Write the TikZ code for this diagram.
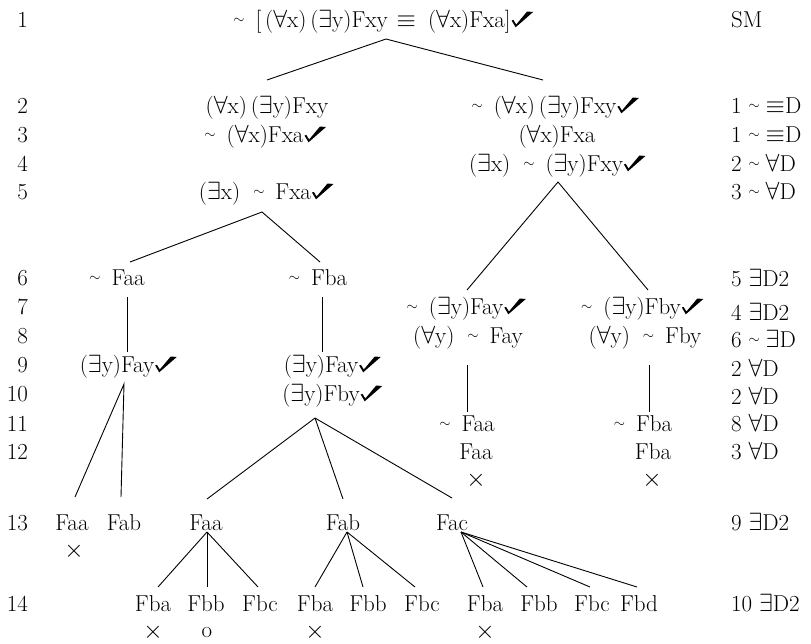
\documentclass[tikz,border=0pt]{standalone}
\usetikzlibrary{calc}
\newcommand\qA{\ensuremath{\forall}}
\newcommand\qE{\ensuremath{\exists}}
\newcommand\eqv{\ensuremath{\equiv}}
\newcommand\xx{\ensuremath{\times}}
\newcommand\nsim{\raisebox{3.5pt}{\fontsize{14.4}{14.4}\selectfont$\sim$}}
\newcommand\ntl{\nsim\hspace{11pt}}
\tikzset{
  chk/.pic={\fill (0,-6.5) -- (1.8,-7.1) -- (4.6,-2.5) -- (15.5,-15.5) -- (21.5,-15) -- (4,0.3) -- cycle;},
  fm/.style={anchor=base},
  num/.style={anchor=base east},
  just/.style={anchor=base west},
  branch/.style={line width=0.9pt}
}
\begin{document}
\begin{tikzpicture}[x=1pt,y=-1pt,
  every node/.style={inner sep=0pt,outer sep=0pt,font=\fontsize{23}{27}\selectfont}]
\useasboundingbox (0,0) rectangle (811,643);

% line numbers
\foreach \i/\y in {1/27,2/113,3/142,4/171,5/199,6/285,7/314,8/343,9/372,10/401,11/431,12/459,13/530,14/611}
  \node[num] (ln\i) at (28,\y) {\i};

% justifications
\node[just] (j1) at (731,27) {SM};
\node[just] (j2) at (731,113) {1 \nsim\hspace{6pt}\eqv D};
\node[just] (j3) at (731,142) {1 \nsim\hspace{6pt}\eqv D};
\node[just] (j4) at (731,171) {2 \nsim\hspace{6pt}\qA D};
\node[just] (j5) at (731,199) {3 \nsim\hspace{6pt}\qA D};
\node[just] (j6) at (731,286) {5 \qE D2};
\node[just] (j7) at (731,320) {4 \qE D2};
\node[just] (j8) at (731,347) {6 \nsim\hspace{6pt}\qE D};
\node[just] (j9) at (731,376) {2 \qA D};
\node[just] (j10) at (731,404) {2 \qA D};
\node[just] (j11) at (731,431) {8 \qA D};
\node[just] (j12) at (731,459) {3 \qA D};
\node[just] (j13) at (731,530) {9 \qE D2};
\node[just] (j14) at (731,611) {10 \qE D2};

% tree formulas
\node[fm] (r1) at (372,27) {\ntl[\,(\qA x)\,(\qE y)Fxy\hspace{9pt}\eqv\hspace{12pt}(\qA x)Fxa]};
\node[fm] (r2L) at (267,113) {(\qA x)\,(\qE y)Fxy};
\node[fm] (r2R) at (544,113) {\ntl(\qA x)\,(\qE y)Fxy};
\node[fm] (r3L) at (254,142) {\ntl(\qA x)Fxa};
\node[fm] (r3R) at (557,142) {(\qA x)Fxa};
\node[fm] (r4R) at (546,171) {(\qE x)\hspace{13pt}\ntl(\qE y)Fxy};
\node[fm] (r5L) at (255,199) {(\qE x)\hspace{13pt}\ntl Fxa};
\node[fm] (r6a) at (117,285) {\ntl Faa};
\node[fm] (r6b) at (318,285) {\ntl Fba};
\node[fm] (r7a) at (455,314) {\ntl(\qE y)Fay};
\node[fm] (r7b) at (631,314) {\ntl(\qE y)Fby};
\node[fm] (r8a) at (468,343) {(\qA y)\hspace{13pt}\ntl Fay};
\node[fm] (r8b) at (645,343) {(\qA y)\hspace{13pt}\ntl Fby};
\node[fm] (r9a) at (117,372) {(\qE y)Fay};
\node[fm] (r9b) at (321,372) {(\qE y)Fay};
\node[fm] (r10) at (321,401) {(\qE y)Fby};
\node[fm] (r11a) at (467,431) {\ntl Faa};
\node[fm] (r11b) at (643,431) {\ntl Fba};
\node[fm] (r12a) at (476,459) {Faa};
\node[fm] (r12b) at (653,459) {Fba};
\node[fm] (x12a) at (476,486) {\xx};
\node[fm] (x12b) at (652,486) {\xx};
\node[fm] (r13a) at (72,530) {Faa};
\node[fm] (r13b) at (124,530) {Fab};
\node[fm] (r13c) at (206,530) {Faa};
\node[fm] (r13d) at (343,530) {Fab};
\node[fm] (r13e) at (452,530) {Fac};
\node[fm] (x13a) at (74,557) {\xx};
\node[fm] (r14a) at (153,611) {Fba};
\node[fm] (r14b) at (206,611) {Fbb};
\node[fm] (r14c) at (260,611) {Fbc};
\node[fm] (r14d) at (315,611) {Fba};
\node[fm] (r14e) at (368,611) {Fbb};
\node[fm] (r14f) at (422,611) {Fbc};
\node[fm] (r14g) at (485,611) {Fba};
\node[fm] (r14h) at (539,611) {Fbb};
\node[fm] (r14i) at (592,611) {Fbc};
\node[fm] (r14j) at (639,611) {Fbd};
\node[fm] (x14a) at (153,638) {\xx};
\node[fm] (o14b) at (207,637) {o};
\node[fm] (x14d) at (315,638) {\xx};
\node[fm] (x14g) at (485,638) {\xx};

% check marks
\foreach \n in {r1,r2R,r3L,r4R,r5L,r7a,r7b,r9a,r9b,r10}
  \pic at ($(\n.base east)+(1,0)$) {chk};

% branches
\draw[branch] ($(r2L.base)+(0,-33)$) -- ($(r1.base)+(14,12)$) -- ($(r2R.base)+(-1,-33)$);
\draw[branch] ($(r6a.base)+(13,-23)$) -- ($(r5L.base)+(7,13)$) -- ($(r6b.base)+(2,-23)$);
\draw[branch] ($(r6a.base)+(10,12)$) -- ($(r9a.base)+(10,-20)$);
\draw[branch] ($(r6b.base)+(4,12)$) -- ($(r9b.base)+(1,-20)$);
\draw[branch] ($(r7a.base)+(12,-24)$) -- ($(r4R.base)+(12,11)$) -- ($(r7b.base)+(17,-24)$);
\draw[branch] ($(r8a.base)+(-1,22)$) -- ($(r11a.base)+(0,-19)$);
\draw[branch] ($(r8b.base)+(4,22)$) -- ($(r11b.base)+(6,-19)$);
\draw[branch] ($(r13a.base)+(3,-33)$) -- ($(r9a.base)+(7,12)$) -- ($(r13b.base)+(-3,-33)$);
\draw[branch] ($(r10.base)+(-6,17)$) -- ($(r13c.base)+(1,-31)$);
\draw[branch] ($(r10.base)+(-6,17)$) -- ($(r13d.base)+(0,-31)$);
\draw[branch] ($(r10.base)+(-6,17)$) -- ($(r13e.base)+(0,-32)$);
\foreach \c/\d in {r14a/5,r14b/1,r14c/-2}
  \draw[branch] ($(r13c.base)+(1,2)$) -- ($(\c.base)+(\d,-24)$);
\foreach \c/\d in {r14d/0,r14e/-5,r14f/-7}
  \draw[branch] ($(r13d.base)+(4,2)$) -- ($(\c.base)+(\d,-24)$);
\foreach \c/\d in {r14g/-2,r14h/-12,r14i/-2,r14j/-2}
  \draw[branch] ($(r13e.base)+(9,2)$) -- ($(\c.base)+(\d,-24)$);
\end{tikzpicture}
\end{document}
